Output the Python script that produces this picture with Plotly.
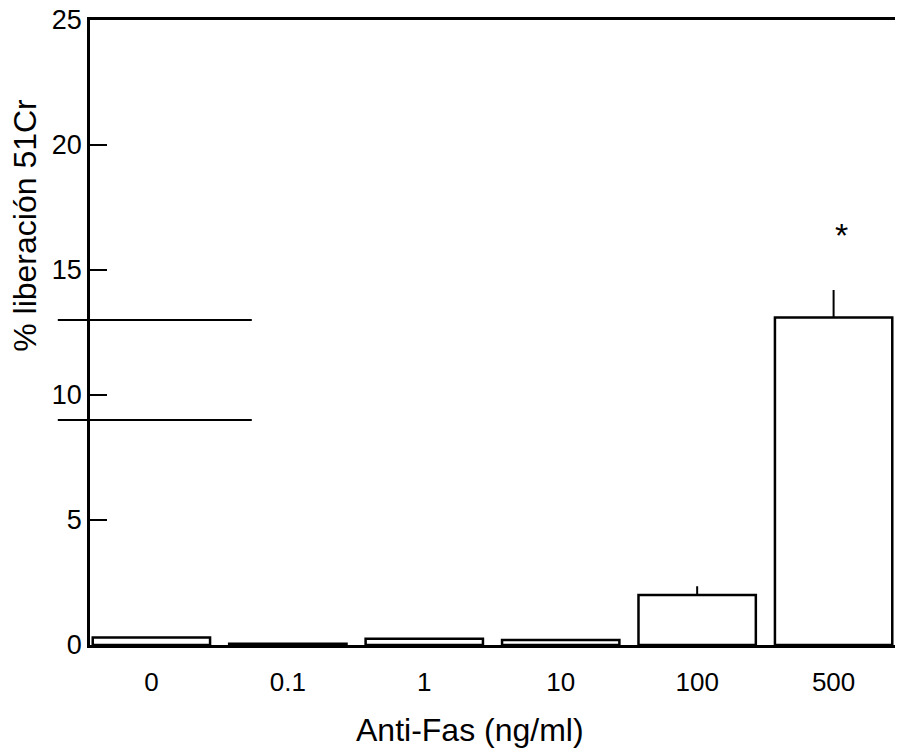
import plotly.graph_objects as go

categories = ["0", "0.1", "1", "10", "100", "500"]
release = [0.3, 0.05, 0.25, 0.2, 2.0, 13.1]
err_up = [0, 0, 0, 0, 0.35, 1.1]
ref_lines = [9, 13]
yticks = [0, 5, 10, 15, 20, 25]
star_cat = "500"
star_y = 16.4
Y_MAX = 25

FONT = "Liberation Sans, Arial, Helvetica, sans-serif"

fig = go.Figure()
fig.add_trace(go.Bar(
    x=categories, y=release,
    marker=dict(color="white", line=dict(color="black", width=2.5)),
    width=0.86,
    error_y=dict(type="data", array=err_up, arrayminus=[0]*len(err_up),
                 symmetric=False, color="black", thickness=2, width=0),
    showlegend=False,
))

# reference lines (extend left past the y axis)
for v in ref_lines:
    fig.add_shape(type="line", xref="paper", yref="paper",
                  x0=-0.04, x1=0.201, y0=v / Y_MAX, y1=v / Y_MAX,
                  line=dict(color="black", width=2))

fig.add_annotation(x=categories.index(star_cat), y=star_y, text="*",
                   showarrow=False, xshift=8,
                   font=dict(family=FONT, size=34, color="black"))

fig.add_annotation(xref="paper", yref="paper", x=-0.081, y=0.672,
                   text="% liberación 51Cr", textangle=-90, showarrow=False,
                   xanchor="center", yanchor="middle",
                   font=dict(family=FONT, size=32, color="black"))

fig.add_annotation(xref="paper", yref="paper", x=0.472, y=-0.136,
                   text="Anti-Fas (ng/ml)", showarrow=False,
                   xanchor="center", yanchor="middle",
                   font=dict(family=FONT, size=32, color="black"))

fig.update_layout(
    width=900, height=752,
    margin=dict(l=90, r=5, t=20, b=107),
    paper_bgcolor="white", plot_bgcolor="white",
    font=dict(family=FONT, color="black"),
    xaxis=dict(
        type="category",
        range=[-0.45, 5.45], showline=True, linecolor="black", linewidth=2.5,
        mirror=True, ticks="", showgrid=False, zeroline=False,
        tickfont=dict(size=26), ticklabelstandoff=12,
    ),
    yaxis=dict(
        range=[0, Y_MAX], tickvals=yticks, showline=True, linecolor="black",
        linewidth=2.5, ticks="inside", ticklen=17, tickwidth=2, tickcolor="black",
        showgrid=False, zeroline=False, tickfont=dict(size=27),
        ticklabelstandoff=0,
    ),
)

fig.write_html("out.html")
